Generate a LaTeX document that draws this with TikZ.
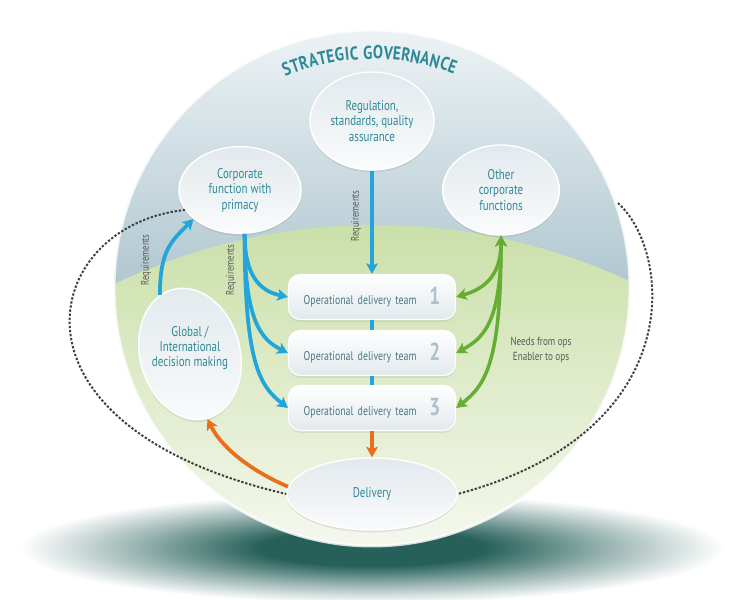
\documentclass[tikz,border=0pt]{standalone}
\usepackage{fontspec}
\setmainfont{PT Sans}[FakeStretch=0.78]
\newfontfamily\govfont{PT Sans}[FakeStretch=0.8]
\usepackage{xcolor}
\definecolor{govteal}{RGB}{45,136,152}
\definecolor{teamtext}{RGB}{74,120,132}
\definecolor{numgray}{RGB}{172,193,201}
\definecolor{reqblue}{RGB}{35,165,218}
\definecolor{opsgreen}{RGB}{102,174,50}
\definecolor{delorange}{RGB}{232,112,28}
\definecolor{labelgray}{RGB}{90,90,90}
\definecolor{loopgray}{RGB}{65,65,65}
\definecolor{skytop}{RGB}{238,243,245}
\definecolor{skybot}{RGB}{172,197,206}
\definecolor{fieldtop}{RGB}{202,223,168}
\definecolor{fieldbot}{RGB}{245,248,238}
\definecolor{bubtop}{RGB}{226,233,237}
\definecolor{bubbot}{RGB}{250,251,252}
\definecolor{floorteal}{RGB}{38,96,88}
\definecolor{floormid}{RGB}{157,183,180}
\usepackage{tikz}
\usetikzlibrary{arrows.meta, shapes.geometric, shadows}

\pgfdeclareradialshading{floorshade}{\pgfpoint{0bp}{0bp}}{%
  color(0bp)=(floorteal); color(8bp)=(floorteal); color(17bp)=(floormid);
  color(25bp)=(white); color(50bp)=(white)}

\newcommand{\teamno}[1]{{\fontsize{21}{21}\selectfont\bfseries\color{numgray}#1}}

\tikzset{
  govletter/.style={font=\govfont\bfseries\fontsize{16}{16}\selectfont, text=govteal,
    inner sep=0pt, anchor=base},
  bubble/.style={ellipse, draw=white, line width=1.2pt, top color=bubtop, bottom color=bubbot,
    drop shadow={opacity=0.18, shadow xshift=0pt, shadow yshift=-2pt},
    inner sep=0pt, align=center, text=govteal, font=\fontsize{12}{13.2}\selectfont},
  teambox/.style={rectangle, rounded corners=10pt, draw=white, line width=1pt,
    top color=white, bottom color=bubtop,
    drop shadow={opacity=0.15, shadow xshift=0pt, shadow yshift=-2pt},
    minimum width=5.01cm, minimum height=1.35cm, text width=4.1cm, inner xsep=0.45cm,
    text=teamtext, font=\fontsize{10.8}{12}\selectfont},
  reqlabel/.style={font=\fontsize{9.5}{10}\selectfont, text=labelgray, rotate=90},
  reqarrow/.style={draw=reqblue, line width=3.2pt, -{Stealth[length=9pt, width=10pt, inset=2pt]}},
  opsarrow/.style={draw=opsgreen, line width=3pt,
    {Stealth[length=9pt, width=10pt, inset=2pt]}-{Stealth[length=9pt, width=10pt, inset=2pt]}},
  delarrow/.style={draw=delorange, line width=3.2pt, -{Stealth[length=9pt, width=10pt, inset=2pt]}},
  loopline/.style={draw=loopgray, line width=1.7pt, dash pattern=on 2pt off 1.5pt},
}

\begin{document}
\begin{tikzpicture}[x=0.03cm, y=-0.03cm]
  \useasboundingbox (0,0) rectangle (734,600);

  % floor shadow and globe
  \shade[shading=floorshade] (372,548) ellipse (352 and 55);
  \begin{scope}
    \clip (372,288) circle (258);
    \shade[top color=skytop, bottom color=skybot] (110,28) rectangle (636,300);
    \begin{scope}
      \clip (375,828) circle (603);
      \shade[top color=fieldtop, bottom color=fieldbot] (110,222) rectangle (636,548);
    \end{scope}
  \end{scope}
  \draw[white, line width=2.5pt, opacity=0.8] (372,288) circle (258);

  % title round the rim
  \foreach \ch/\ang [count=\k] in {S/248.7, T/250.9, R/253.1, A/255.5, T/257.8, E/259.8,
      G/262.0, I/263.9, C/265.6, G/269.0, O/271.5, V/274.0, E/276.1, R/278.3, N/280.6,
      A/283.1, N/285.5, C/288.0, E/290.0}
    \path (372,288) ++(\ang:229) node[govletter, rotate=270-\ang] (gov\k) {\ch};

  % bubbles
  \node[bubble, minimum width=3.72cm, minimum height=2.94cm] (reg) at (372,121) {Regulation,\\standards, quality\\assurance};
  \node[bubble, minimum width=3.66cm, minimum height=2.6cm] (corp) at (240,190) {Corporate\\function with\\primacy};
  \node[bubble, minimum width=3.5cm, minimum height=2.7cm] (other) at (501,190) {Other\\corporate\\functions};
  \node[bubble, minimum width=3.0cm, minimum height=4.0cm, rotate=15] (glob) at (190,354) {};
  \node[align=center, text=govteal, font=\fontsize{12}{13.2}\selectfont] (globtext) at (190,348) {Global /\\International\\decision making};
  \node[bubble, minimum width=5.1cm, minimum height=2.16cm] (deliv) at (372,494) {Delivery};

  % teams
  \node[teambox] (team1) at (372,297) {Operational delivery team\hfill\teamno{1}};
  \node[teambox] (team2) at (372,353) {Operational delivery team\hfill\teamno{2}};
  \node[teambox] (team3) at (372,408) {Operational delivery team\hfill\teamno{3}};

  % loop round the outside
  \coordinate (rimR) at (618,203);
  \draw[loopline] (corp.200) .. controls (40,225) and (-10,425) .. (deliv.west);
  \draw[loopline] (rimR) .. controls (672,252) and (690,432) .. (deliv.east);

  % requirements
  \draw[reqarrow] (reg.south) -- (team1.north);
  \draw[reqblue, line width=3.2pt] (team1.south) -- (team2.north);
  \draw[reqblue, line width=3.2pt] (team2.south) -- (team3.north);
  \draw[reqarrow] (corp.-84) .. controls +(0,42) and +(-28,-6) .. (team1.west);
  \draw[reqarrow] (corp.-84) .. controls +(0,85) and +(-28,-14) .. (team2.west);
  \draw[reqarrow] (corp.-84) .. controls +(0,130) and +(-28,-22) .. (team3.west);
  \draw[reqarrow] (glob.102) .. controls +(0,-45) and +(-22,22) .. (corp.212);
  \node[reqlabel] (req1) at (356,216) {Requirements};
  \node[reqlabel] (req2) at (231,270) {Requirements};
  \node[reqlabel] (req3) at (146,260) {Requirements};

  % needs / enablers
  \draw[opsarrow] (other.south) .. controls +(0,40) and +(28,-8) .. (team1.east);
  \draw[opsarrow] (other.south) .. controls +(0,85) and +(28,-15) .. (team2.east);
  \draw[opsarrow] (other.south) .. controls +(0,130) and +(28,-22) .. (team3.east);
  \node[align=center, text=labelgray, font=\fontsize{10}{12}\selectfont] (needs) at (541,350) {Needs from ops\\Enabler to ops};

  % delivery
  \draw[delarrow] (team3.south) -- (deliv.north);
  \draw[delarrow] (deliv.175) .. controls +(-35,-15) and +(15,30) .. (glob.south);
\end{tikzpicture}
\end{document}
